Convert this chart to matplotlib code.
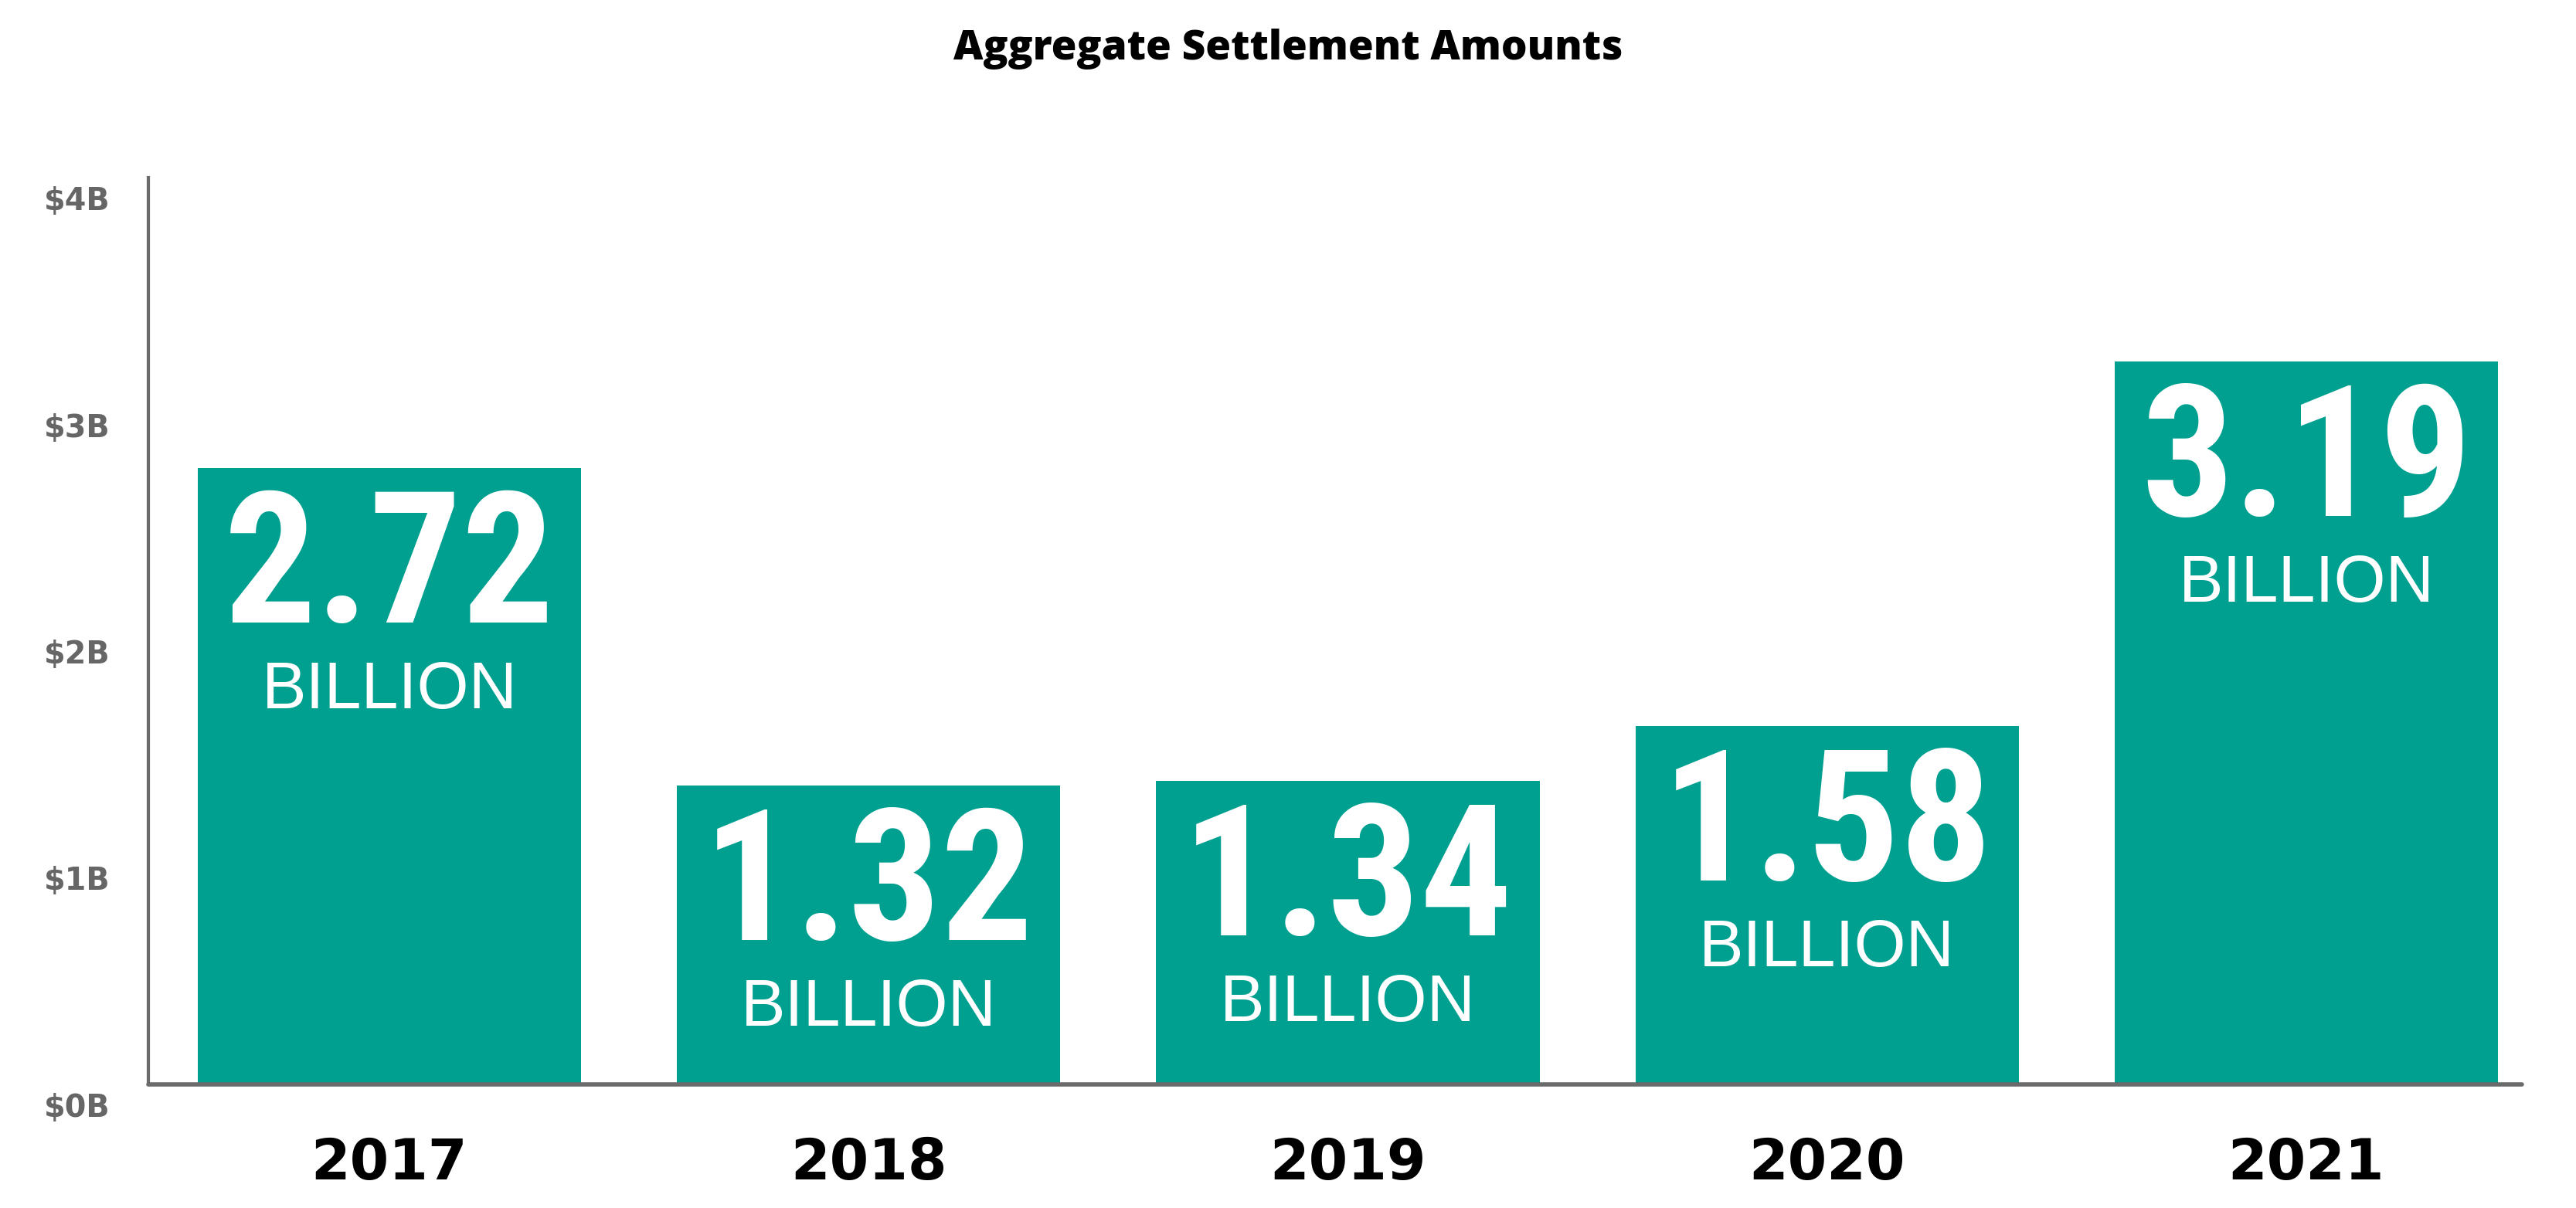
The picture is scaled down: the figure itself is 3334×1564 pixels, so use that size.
import math
import matplotlib
matplotlib.use('Agg')
import matplotlib.pyplot as plt
import matplotlib.transforms as mtransforms
from matplotlib import font_manager
from matplotlib.font_manager import FontProperties
from matplotlib.textpath import TextPath

years = ['2017', '2018', '2019', '2020', '2021']
amounts = [2.72, 1.32, 1.34, 1.58, 3.19]
value_labels = ['2.72', '1.32', '1.34', '1.58', '3.19']
yticks = [0, 1, 2, 3, 4]
ytick_labels = ['$0B', '$1B', '$2B', '$3B', '$4B']
title = 'Aggregate Settlement Amounts'

teal = '#00A091'
grey = '#6b6b6b'
DPI = 100


def wnum(w):
    if isinstance(w, str):
        return font_manager.weight_dict.get(w, 400)
    return int(w)


bold_fonts = set(f.name for f in font_manager.fontManager.ttflist
                 if f.style == 'normal' and wnum(f.weight) >= 700)


def measure(name, s, hs, weight):
    fp = FontProperties(family=name, weight=weight)
    w = TextPath((0, 0), s, size=100, prop=fp).get_extents().width
    h = TextPath((0, 0), hs, size=100, prop=fp).get_extents().height
    return w, h


def choose(cands, s, hs, weight, ratio, cap_px, tol=0.0):
    # first font in the list whose proportions are within tol,
    # else the closest one; sized so its cap height matches
    found = []
    for c in cands:
        if c not in bold_fonts:
            continue
        w, h = measure(c, s, hs, weight)
        if h <= 0:
            continue
        found.append((abs(math.log((w / h) / ratio)), c, h))
    if not found:
        w, h = measure('DejaVu Sans', s, hs, weight)
        found = [(0, 'DejaVu Sans', h)]
    good = [f for f in found if f[0] < tol]
    best = good[0] if good else min(found)
    size = cap_px / (best[2] / 100) * 72 / DPI
    return [best[1], 'DejaVu Sans'], size


wide = ['Archivo', 'Work Sans', 'Inter', 'Roboto', 'Open Sans', 'Lato', 'Noto Sans',
        'Public Sans', 'Hanken Grotesk', 'Schibsted Grotesk', 'Montserrat',
        'Liberation Sans', 'DejaVu Sans']
narrow = ['Liberation Sans Narrow', 'Roboto Condensed', 'IBM Plex Sans Condensed',
          'Archivo Narrow', 'Barlow Semi Condensed', 'Roboto', 'Liberation Sans']

num_font, num_size = choose(narrow, '2.72', '2.72', 'bold', 2.21, 172, tol=0.1)
year_font, year_size = choose(wide, '2017', '2017', 'bold', 3.42, 55)
tick_font, tick_size = choose(wide, '$4B', 'B', 'bold', 3.45, 29)
title_font, title_size = choose(wide, title, 'A', 'heavy', 22.6, 38)

plt.rcParams['font.family'] = ['Liberation Sans', 'DejaVu Sans']

fig = plt.figure(figsize=(33.34, 15.64), dpi=DPI)
ax = fig.add_axes([192 / 3334, 1 - 1404 / 1564, (3264 - 192) / 3334, (1404 - 230) / 1564])

x = list(range(len(years)))
bars = ax.bar(x, amounts, width=0.8, color=teal, zorder=2)

for b, lab in zip(bars, value_labels):
    cx = b.get_x() + b.get_width() / 2
    top = b.get_height()
    ax.annotate(lab, (cx, top), xytext=(0, -200 * 0.72), textcoords='offset points',
                ha='center', va='baseline', color='white', fontsize=num_size,
                fontweight='bold', family=num_font)
    ax.annotate('BILLION', (cx, top), xytext=(0, -311 * 0.72), textcoords='offset points',
                ha='center', va='baseline', color='white', fontsize=62)

ax.set_xlim(-0.503, 4.45)
ax.set_ylim(0, 4)
ax.set_xticks(x)
ax.set_xticklabels(years, fontsize=year_size, fontweight='bold', color='black',
                   family=year_font, va='baseline')
ax.set_yticks(yticks)
ax.set_yticklabels(ytick_labels, fontsize=tick_size, fontweight='bold', color='#666666',
                   family=tick_font, va='baseline')
ax.tick_params(axis='x', length=0, pad=123 * 0.72)
ax.tick_params(axis='y', length=0, pad=50 * 0.72)

off = mtransforms.ScaledTranslation(0, -42 / DPI, fig.dpi_scale_trans)
for t in ax.get_yticklabels():
    t.set_transform(t.get_transform() + off)

for s in ['top', 'right']:
    ax.spines[s].set_visible(False)
ax.spines['left'].set_color(grey)
ax.spines['left'].set_linewidth(3)
ax.spines['bottom'].set_color(grey)
ax.spines['bottom'].set_linewidth(4)
ax.spines['bottom'].set_capstyle('round')

fig.text(0.5, 1 - 77 / 1564, title, ha='center', va='baseline',
         fontsize=title_size, fontweight='heavy', color='black', family=title_font)

fig.savefig('out.png', dpi=DPI)
